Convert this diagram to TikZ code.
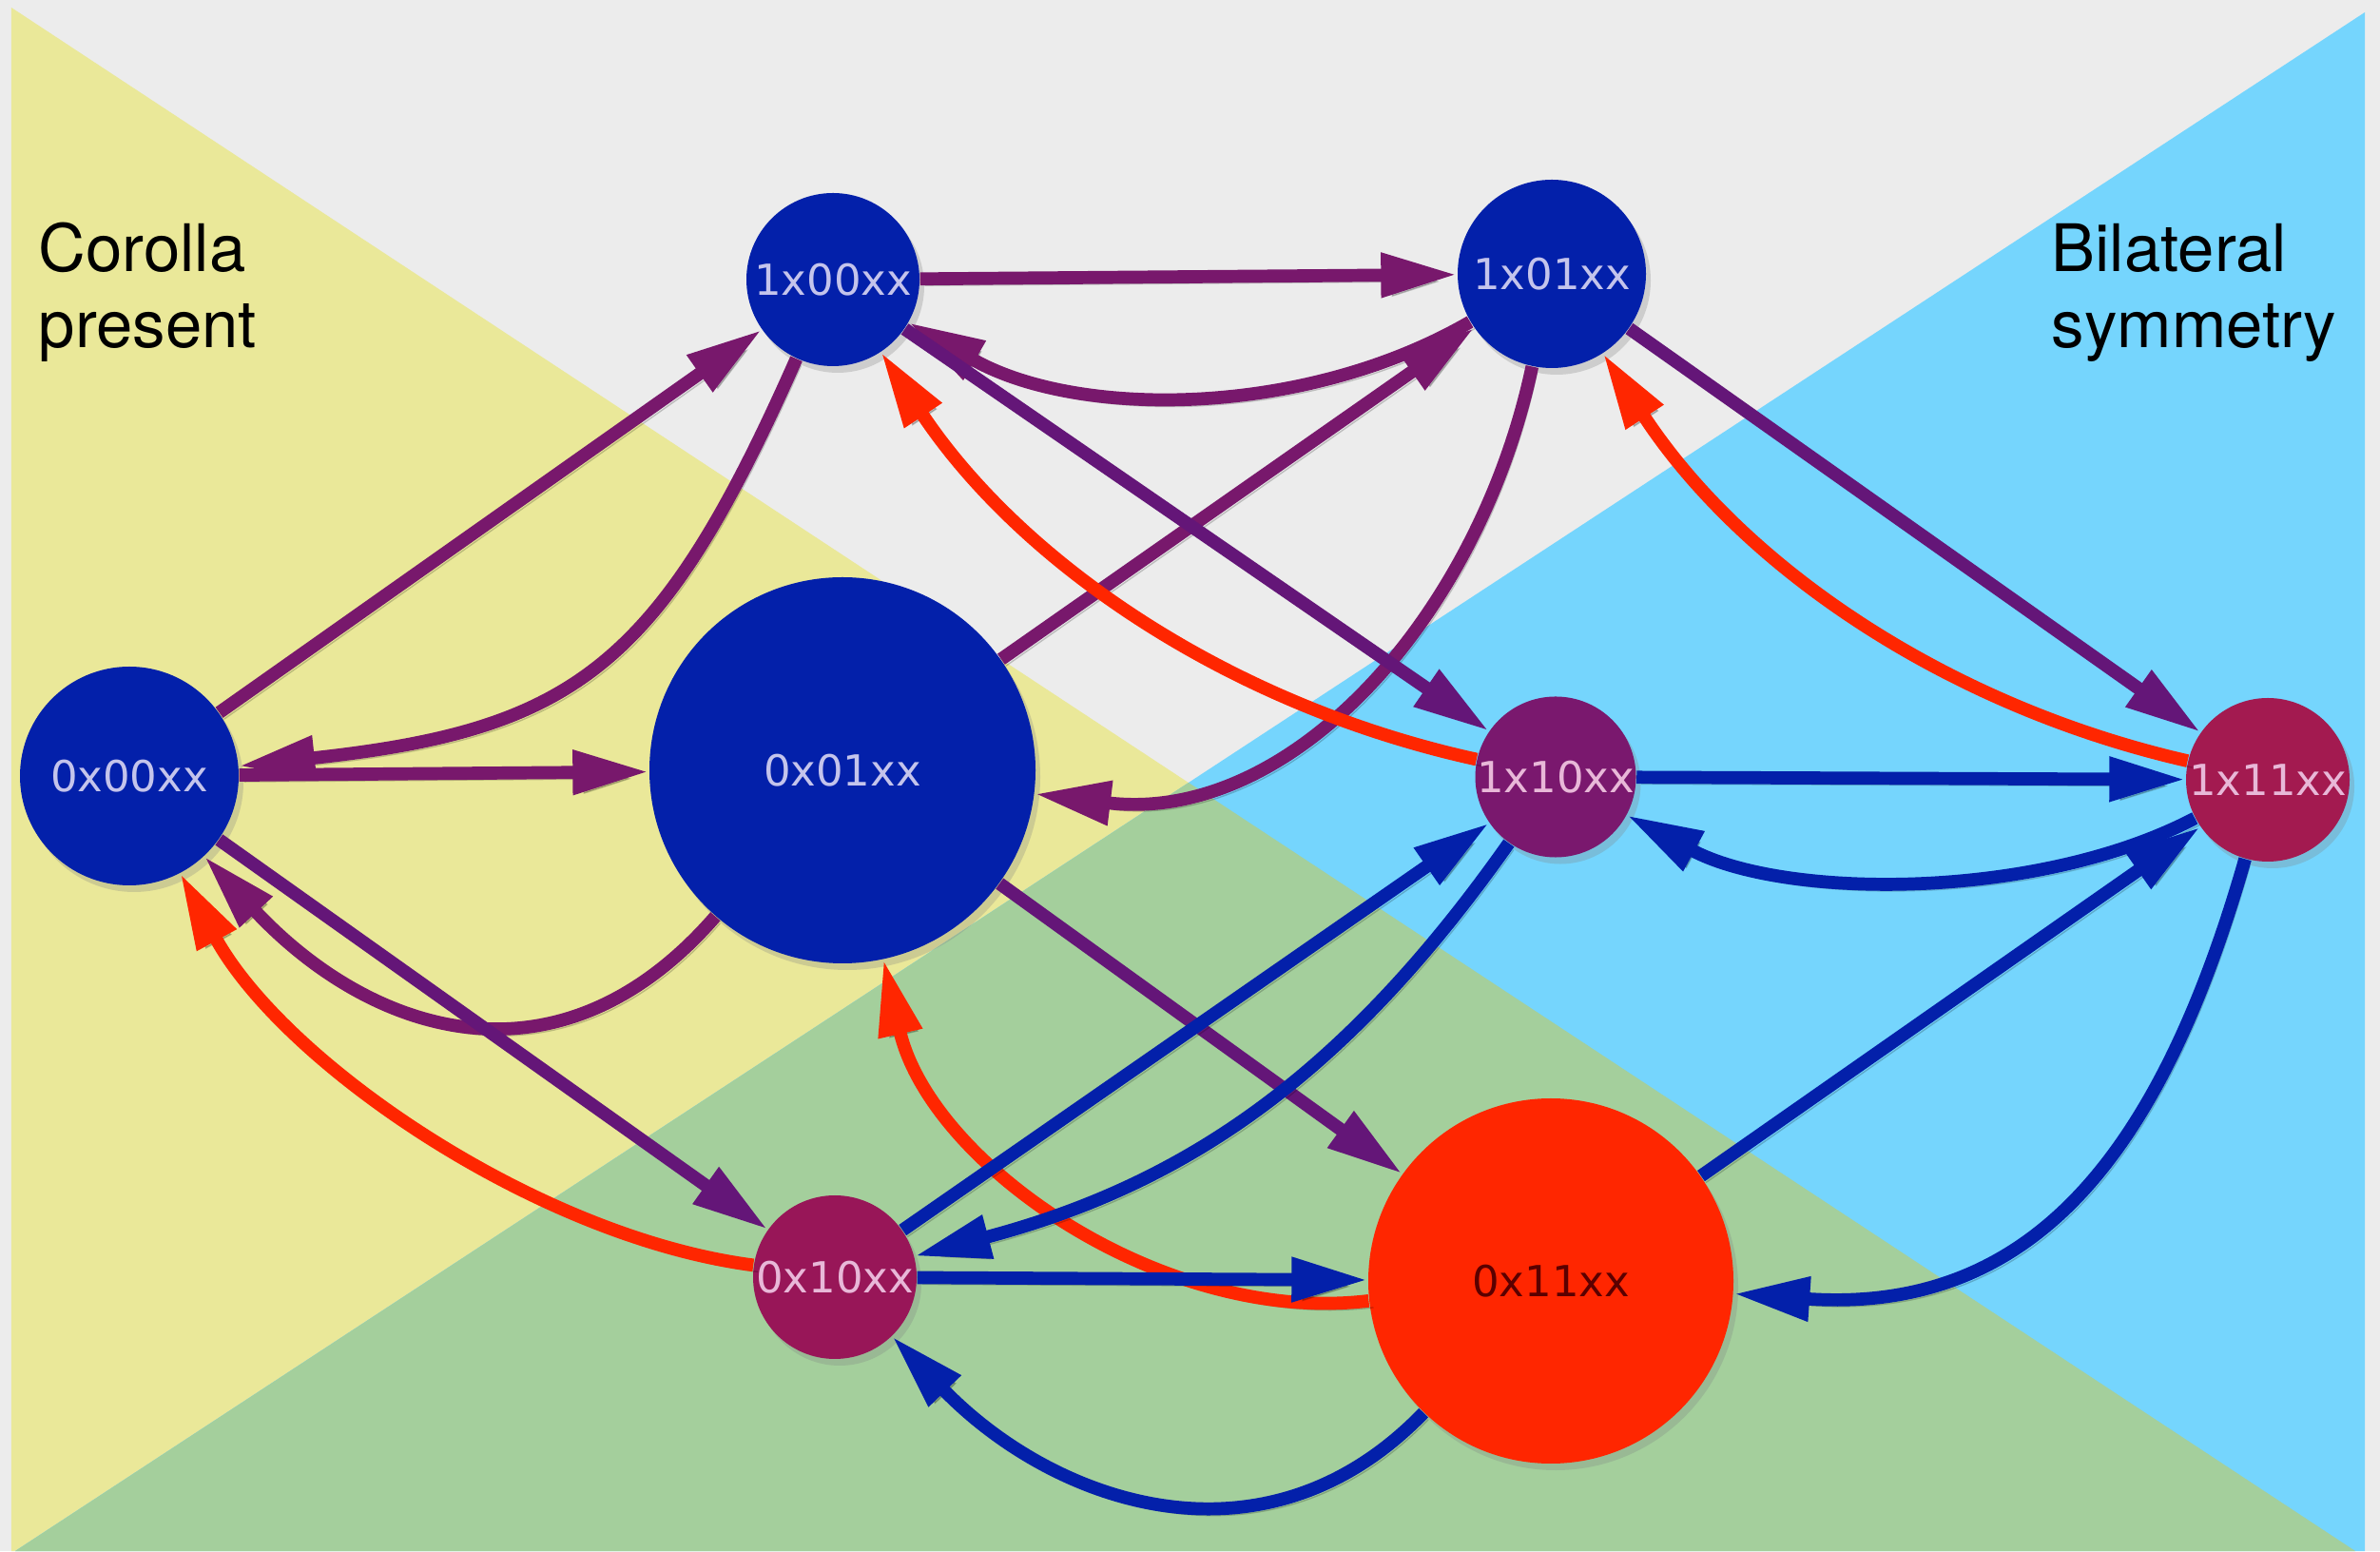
\documentclass[tikz,border=0pt]{standalone}
\usepackage{fontspec}
\setmainfont{DejaVu Sans}
\newfontfamily\headfont{TeX Gyre Heros}
\usepackage{tikz}
\usetikzlibrary{arrows.meta, shadows, backgrounds}
\definecolor{bggray}{RGB}{236,236,236}
\definecolor{bgyellow}{RGB}{234,232,153}
\definecolor{bgblue}{RGB}{117,213,253}
\definecolor{bggreen}{RGB}{164,207,156}
\definecolor{stdark}{RGB}{3,32,170}
\definecolor{stplum}{RGB}{122,24,110}
\definecolor{stwine}{RGB}{152,22,88}
\definecolor{strose}{RGB}{163,26,80}
\definecolor{sthot}{RGB}{255,38,0}
\definecolor{edpurple}{RGB}{120,24,108}
\definecolor{edviolet}{RGB}{100,22,120}
\definecolor{txlav}{RGB}{196,196,236}
\definecolor{txpink}{RGB}{232,184,216}
\definecolor{txdark}{RGB}{90,0,0}
\tikzset{
  >={Triangle[length=8mm, width=4.4mm]},
  gs state/.style={circle, inner sep=0pt, font=\fontsize{12.8}{15}\selectfont,
    drop shadow={shadow xshift=0.5mm, shadow yshift=-0.7mm, opacity=0.28}},
  gs dark/.style={gs state, fill=stdark, text=txlav},
  gs plum/.style={gs state, fill=stplum, text=txpink},
  gs wine/.style={gs state, fill=stwine, text=txpink},
  gs rose/.style={gs state, fill=strose, text=txpink},
  gs hot/.style={gs state, fill=sthot, text=txdark},
  gs edge/.style={->, line width=3.9pt,
    preaction={draw=black, opacity=0.2, transform canvas={shift={(0.5mm,-0.7mm)}}}},
  gs purple/.style={gs edge, draw=edpurple},
  gs violet/.style={gs edge, draw=edviolet},
  gs red/.style={gs edge, draw=sthot},
  gs blue/.style={gs edge, draw=stdark},
  gs label/.style={anchor=base west, align=left, inner sep=0pt,
    font=\headfont\fontsize{19.6}{23}\selectfont},
}

\begin{document}
\begin{tikzpicture}
 \useasboundingbox (0,0) rectangle (25.03,16.31);
 % background wedges
 \begin{scope}[on background layer]
  \fill[bggray] (0,0) rectangle (25.03,16.31);
  \fill[bgyellow] (0.12,16.23) -- (24.77,0) -- (0.12,0) -- cycle;
  \fill[bgblue] (24.87,16.18) -- (24.87,0) -- (0.16,0) -- cycle;
  \fill[bggreen] (0.16,0) -- (12.50,8.08) -- (24.77,0) -- cycle;
 \end{scope}
 \node[gs label] (corolla) at (0.40,12.65) {Corolla\\present};
 \node[gs label] (bilat) at (21.57,12.65) {Bilateral\\symmetry};
 % states
 \node[gs dark, minimum size=18.2mm] (B00) at (8.76,13.37) {1x00xx};
 \node[gs dark, minimum size=19.8mm] (B01) at (16.32,13.43) {1x01xx};
 \node[gs dark, minimum size=23mm] (A00) at (1.36,8.15) {0x00xx};
 \node[gs dark, minimum size=40.6mm] (A01) at (8.86,8.21) {0x01xx};
 \node[gs plum, minimum size=16.8mm] (B10) at (16.36,8.14) {1x10xx};
 \node[gs rose, minimum size=17.2mm] (B11) at (23.85,8.11) {1x11xx};
 \node[gs wine, minimum size=17.2mm] (A10) at (8.78,2.88) {0x10xx};
 \node[gs hot, minimum size=38.4mm] (A11) at (16.31,2.84) {0x11xx};
 % purple transitions
 \draw[gs purple] (B00) -- (B01);
 \draw[gs purple] (B01) to[bend left=30, looseness=0.88] (B00);
 \draw[gs purple] (A01) -- (B01);
 \draw[gs purple] (B01) to[out=258, in=-7] (A01);
 \draw[gs purple] (A00) -- (B00);
 \draw[gs purple] (B00) to[bend left=30, looseness=1.25] (A00);
 \draw[gs purple] (A00) -- (A01);
 \draw[gs purple] (A01) to[out=229, in=-47, looseness=1.2] (A00);
 \draw[gs violet] (A00) -- (A10);
 \draw[gs violet] (B00) -- (B10);
 \draw[gs violet] (B01) -- (B11);
 \draw[gs violet] (A01) -- (A11);
 % red transitions
 \draw[gs red] (B10) to[bend left=22, looseness=0.9] (B00);
 \draw[gs red] (B11) to[bend left=22, looseness=0.9] (B01);
 \draw[gs red] (A10) to[bend left=27, looseness=0.8] (A00);
 \draw[gs red] (A11) to[bend left=42, looseness=0.9] (A01);
 % blue transitions
 \draw[gs blue] (B10) -- (B11);
 \draw[gs blue] (B11) to[bend left=28, looseness=0.8] (B10);
 \draw[gs blue] (A10) -- (B10);
 \draw[gs blue] (B10) to[bend left=20] (A10);
 \draw[gs blue] (A10) -- (A11);
 \draw[gs blue] (A11) to[out=226, in=-46, looseness=1.1] (A10);
 \draw[gs blue] (A11) -- (B11);
 \draw[gs blue] (B11) to[out=254, in=-4, looseness=1.15] (A11);
\end{tikzpicture}
\end{document}
